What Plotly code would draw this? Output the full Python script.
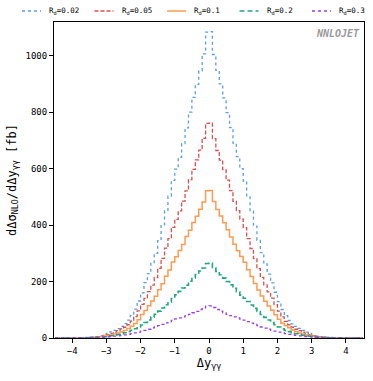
"""NLO rapidity-difference distribution for several R_d values"""
import numpy as np
import plotly.graph_objects as go

# bin edges of the histogram (0.1 wide, -4.5 .. 4.5)
bin_edges = np.round(np.linspace(-4.5, 4.5, 91), 2)

# values per bin, left to right [fb]
rd002 = [0.05, 0.1, 0.1, 0.2, 0.3, 0.4, 0.6, 0.9, 1.3, 1.9, 2.6, 3.6, 5.2, 7.8, 11, 16, 22, 27, 33, 41,
         51, 63, 80, 102, 131, 160, 196, 228, 264, 300, 345, 398, 450, 502, 558, 598, 640, 688, 744, 800,
         852, 898, 946, 1006, 1083,
         1085, 1004, 948, 900, 850, 798, 745, 690, 642, 600, 556, 500, 449, 396, 346, 302, 262, 226, 195, 162,
         129, 101, 79, 62, 50, 41, 34, 27, 21, 16, 11, 7.5, 5, 3.5, 2.5, 1.8, 1.3, 0.9, 0.6, 0.4,
         0.3, 0.2, 0.1, 0.1, 0.05]
rd005 = [0.05, 0.08, 0.1, 0.15, 0.25, 0.35, 0.5, 0.7, 1.0, 1.4, 2.0, 2.8, 4.1, 6.2, 8.8, 12, 16, 21, 26, 32,
         38, 47, 60, 76, 96, 119, 140, 164, 187, 214, 247, 282, 318, 352, 392, 420, 450, 485, 521, 561,
         597, 631, 665, 707, 760,
         761, 706, 664, 630, 596, 559, 522, 484, 451, 421, 391, 352, 317, 281, 246, 215, 188, 163, 141, 118,
         95, 75, 59, 47, 38, 31, 26, 21, 16, 12, 8.5, 6, 4, 2.8, 2, 1.4, 1, 0.7, 0.5, 0.35,
         0.25, 0.15, 0.1, 0.08, 0.05]
rd01 = [0.04, 0.06, 0.1, 0.15, 0.2, 0.3, 0.4, 0.55, 0.8, 1.1, 1.5, 2.1, 3.0, 4.3, 6.1, 8.6, 11, 14.5, 18, 21.5,
        27, 34, 42, 51, 65, 83, 97, 114, 131, 148, 171, 192, 219, 241, 269, 288, 310, 331, 359, 382,
        409, 431, 456, 482, 521,
        522, 483, 455, 432, 408, 383, 358, 332, 309, 289, 268, 242, 218, 193, 170, 149, 130, 113, 98, 82,
        66, 52, 44, 36, 28, 22, 18, 14.5, 11, 8.5, 6, 4.2, 3, 2.1, 1.5, 1.1, 0.8, 0.55, 0.4, 0.3,
        0.2, 0.15, 0.1, 0.06, 0.04]
rd02 = [0.03, 0.05, 0.07, 0.1, 0.14, 0.2, 0.3, 0.42, 0.6, 0.85, 1.2, 1.7, 2.4, 3.4, 4.6, 6.1, 8.1, 10.2, 12.4, 15.2,
        18.8, 22.8, 27.5, 33, 39.5, 46, 55, 64, 74, 84, 95, 106, 118, 128, 140, 153, 165, 177, 187, 201,
        213, 225, 237, 248, 264,
        265, 249, 236, 224, 212, 200, 188, 176, 164, 152, 141, 129, 117, 105, 94, 83, 73, 64, 55, 47,
        39, 33, 27, 22.5, 18.5, 15, 12.5, 10, 8, 6, 4.5, 3.3, 2.4, 1.7, 1.2, 0.85, 0.6, 0.42, 0.3, 0.2,
        0.14, 0.1, 0.07, 0.05, 0.03]
rd03 = [0.04, 0.06, 0.09, 0.13, 0.18, 0.25, 0.34, 0.46, 0.62, 0.82, 1.1, 1.5, 2.0, 2.6, 3.4, 4.4, 5.3, 6.4, 7.9, 9.4,
        11.2, 13.2, 15.2, 18.3, 21, 24.5, 27, 31, 35.5, 39, 43.5, 48, 53.5, 58, 62.5, 67.5, 71, 74.5, 79, 83.5,
        89.5, 94.5, 101, 107, 113,
        114, 108, 101, 95, 89, 84, 79, 75, 71, 67, 63, 58, 53, 48, 44, 39, 35, 31, 27, 24,
        21, 18, 15.5, 13, 11, 9.3, 7.8, 6.5, 5.3, 4.3, 3.4, 2.6, 2, 1.5, 1.1, 0.8, 0.6, 0.45, 0.33, 0.25,
        0.18, 0.13, 0.09, 0.06, 0.04]

series = [
    ("R<sub>d</sub>=0.02", rd002, "#5b9de6", "dot", 1.3),
    ("R<sub>d</sub>=0.05", rd005, "#d94f4f", "4px,2px", 1.3),
    ("R<sub>d</sub>=0.1", rd01, "#ff9a52", "solid", 1.5),
    ("R<sub>d</sub>=0.2", rd02, "#22a878", "5px,3px", 1.6),
    ("R<sub>d</sub>=0.3", rd03, "#9b3ce8", "dot", 1.3),
]

font_family = "DejaVu Sans Mono"

W, H = 373, 381
ML, MR, MT, MB = 54, 9, 22, 43
plot_w, plot_h = W - ML - MR, H - MT - MB


def to_paper(px, py):
    # page pixels -> paper coords of the plot area
    return (px - ML) / plot_w, (H - MB - py) / plot_h


fig = go.Figure()
for name, vals, color, dash, width in series:
    # repeat last value so the final bin is drawn to its right edge
    fig.add_trace(go.Scatter(
        x=bin_edges,
        y=list(vals) + [vals[-1]],
        mode="lines",
        name=name,
        showlegend=False,
        line=dict(shape="hv", color=color, dash=dash, width=width),
    ))

# legend row above the frame, one entry every ~72 px
legend_y = 11
for i, (name, vals, color, dash, width) in enumerate(series):
    x0 = 22 + i * 72.5
    lx0, ly = to_paper(x0, legend_y)
    lx1, _ = to_paper(x0 + 19, legend_y)
    fig.add_shape(type="line", xref="paper", yref="paper",
                  x0=lx0, x1=lx1, y0=ly, y1=ly,
                  line=dict(color=color, dash=dash, width=width))
    tx, _ = to_paper(x0 + 25, legend_y)
    fig.add_annotation(text=name, xref="paper", yref="paper", x=tx, y=ly,
                       xanchor="left", yanchor="middle", showarrow=False,
                       font=dict(family=font_family, size=7.5, color="black"))

fig.add_annotation(
    text="<b><i>NNLOJET</i></b>",
    xref="paper", yref="paper", x=0.993, y=0.988,
    xanchor="right", yanchor="top", showarrow=False,
    font=dict(family=font_family, size=10, color="#9a9a9a"),
)

axis_common = dict(
    showline=True, linecolor="black", linewidth=1, mirror=True,
    ticks="outside", ticklen=4, tickcolor="black", showgrid=False, zeroline=False,
    tickfont=dict(family=font_family, size=9, color="black"),
)

fig.update_layout(
    width=W,
    height=H,
    margin=dict(l=ML, r=MR, t=MT, b=MB, autoexpand=False),
    plot_bgcolor="white",
    paper_bgcolor="white",
    showlegend=False,
    font=dict(family=font_family, size=9, color="black"),
    xaxis=dict(
        range=[-4.53, 4.53], tickvals=[-4, -3, -2, -1, 0, 1, 2, 3, 4],
        title=dict(text="Δy<sub>γγ</sub>", font=dict(family=font_family, size=12), standoff=3),
        **axis_common,
    ),
    yaxis=dict(
        range=[0, 1119], tickvals=[0, 200, 400, 600, 800, 1000],
        title=dict(text="dΔσ<sub>NLO</sub>/dΔy<sub>γγ</sub> [fb]", font=dict(family=font_family, size=12), standoff=6),
        **axis_common,
    ),
)

# drop the browser's default page margin so the figure sits at the window corner
fig.write_html("out.html", config={"displayModeBar": False},
               post_script="document.body.style.margin='0';")
